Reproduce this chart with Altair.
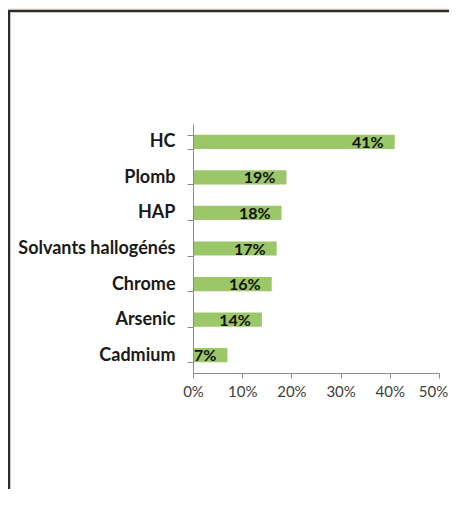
import altair as alt
import pandas as pd

categories = ["HC", "Plomb", "HAP", "Solvants hallogénés", "Chrome", "Arsenic", "Cadmium"]
values = [0.41, 0.19, 0.18, 0.17, 0.16, 0.14, 0.07]
labels = ["41%", "19%", "18%", "17%", "16%", "14%", "7%"]
x_ticks = [0, 0.1, 0.2, 0.3, 0.4, 0.5]

df = pd.DataFrame({"cat": categories, "val": values, "lab": labels})

W, H = 246, 249
PL, PT, PR, PB = 185, 116, 10, 116

frame = alt.Chart(pd.DataFrame({"a": [0]})).mark_rect(
    fill="white", stroke="#2b2b2b", strokeWidth=2.5
).encode(
    x=alt.value(-184), x2=alt.value(W + PR + 20),
    y=alt.value(-113), y2=alt.value(H + PB + 20)
)

y_enc = alt.Y("cat:N", sort=categories, title=None,
              scale=alt.Scale(paddingInner=0.6, paddingOuter=0.3),
              axis=alt.Axis(labelFont="Lato", labelFontWeight="bold", labelFontSize=18,
                            labelColor="#1a1a1a", labelPadding=12, tickSize=6,
                            tickBand="extent", tickColor="#8c8c8c", domainColor="#8c8c8c",
                            labelLimit=300, zindex=1))
x_enc = alt.X("val:Q", title=None,
              scale=alt.Scale(domain=[0, 0.5], nice=False),
              axis=alt.Axis(values=x_ticks, format=".0%", grid=False, labelFont="Lato",
                            labelFontSize=15, labelColor="#404040", tickSize=5,
                            labelPadding=6, tickColor="#8c8c8c", domainColor="#8c8c8c",
                            labelFlush=False,
                            labelOffset={"expr": "datum.value >= 0.5 ? -6 : 0"},
                            zindex=1))

bars = alt.Chart(df).mark_bar(color="#9bc768").encode(x=x_enc, y=y_enc)

text = alt.Chart(df).mark_text(
    align="right", baseline="middle", dx=-11, dy=1, font="Lato", fontWeight="bold",
    fontSize=16, color="#111111"
).encode(x=alt.X("val:Q"), y=alt.Y("cat:N", sort=categories), text="lab:N")

chart = alt.layer(frame, bars, text).properties(
    width=W, height=H,
    autosize=alt.AutoSizeParams(type="none"),
    padding={"left": PL, "top": PT, "right": PR, "bottom": PB},
    background="#fcefe9"
).configure_view(stroke=None)

chart.save("out.html", embed_options={"renderer": "svg", "actions": False})
